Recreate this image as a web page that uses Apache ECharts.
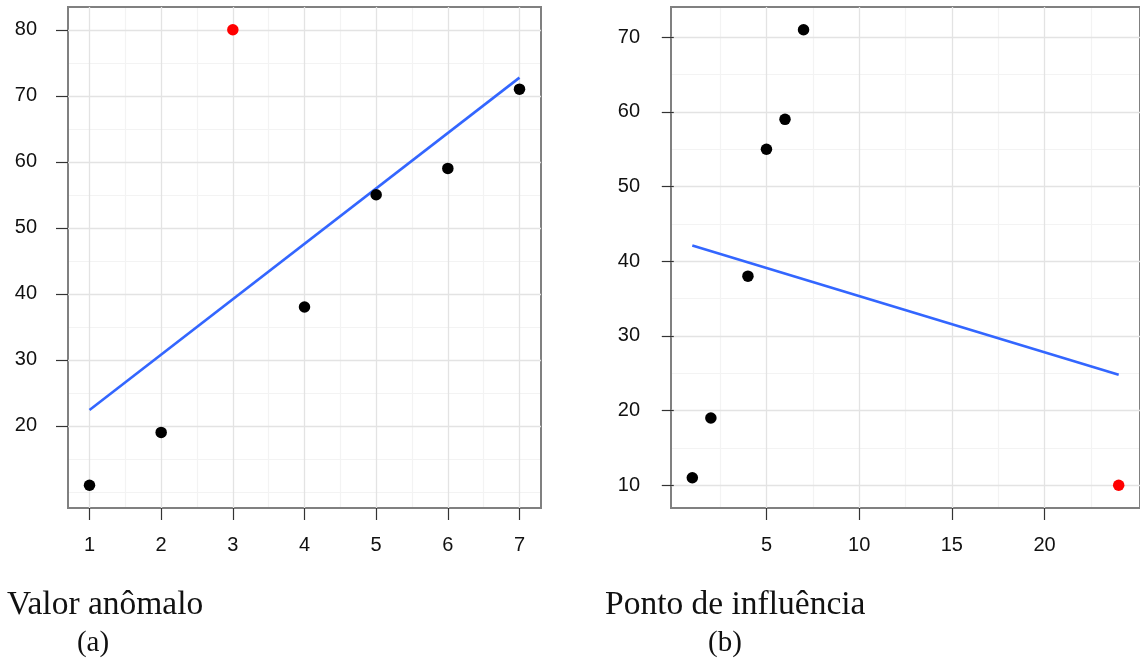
<!DOCTYPE html>
<html>
<head>
<meta charset="utf-8">
<script src="https://cdn.jsdelivr.net/npm/echarts@6/dist/echarts.min.js"></script>
<style>
html,body{margin:0;padding:0;background:#fff;}
#chart{width:1140px;height:659px;}
</style>
</head>
<body>
<div id="chart"></div>
<script>
// ---- Data ----
// Panel (a): Valor anômalo
const leftX = [1, 2, 3, 4, 5, 6, 7];
const leftY = [11, 19, 80, 38, 55, 59, 71];
const leftHighlight = 2;            // index of the red (anomalous) point
const leftFitX = [1, 7];
const leftFitY = [22.4, 72.75];
const leftXTicks = [1, 2, 3, 4, 5, 6, 7];
const leftXMinor = [1.5, 2.5, 3.5, 4.5, 5.5, 6.5];
const leftYTicks = [20, 30, 40, 50, 60, 70, 80];
const leftYMinor = [10, 15, 25, 35, 45, 55, 65, 75];
const leftXRange = [0.7, 7.3];
const leftYRange = [7.55, 83.45];

// Panel (b): Ponto de influência
const rightX = [1, 2, 4, 5, 6, 7, 24];
const rightY = [11, 19, 38, 55, 59, 71, 10];
const rightHighlight = 6;           // index of the red (influential) point
const rightFitX = [1, 24];
const rightFitY = [42.1, 24.8];
const rightXTicks = [5, 10, 15, 20];
const rightXMinor = [2.5, 7.5, 12.5, 17.5, 22.5];
const rightYTicks = [10, 20, 30, 40, 50, 60, 70];
const rightYMinor = [15, 25, 35, 45, 55, 65];
const rightXRange = [-0.15, 25.15];
const rightYRange = [6.95, 74.05];

const captions = ['Valor anômalo', 'Ponto de influência'];
const subLabels = ['(a)', '(b)'];

// ---- Styling ----
const MAJOR = '#e3e3e3';
const MINOR = '#f3f3f3';
const LABEL_FONT = {fontFamily: 'Liberation Sans', fontSize: 20, color: '#111'};

function majorAxis(dim, gridIndex, range, ticks) {
  const isX = dim === 'x';
  return {
    type: 'value', gridIndex, min: range[0], max: range[1],
    position: isX ? 'bottom' : 'left',
    axisLine: {show: false},
    axisTick: {show: true, inside: false, length: 12, customValues: ticks,
               lineStyle: {color: '#333', width: 1.2}},
    axisLabel: Object.assign({show: true, customValues: ticks, margin: isX ? 27 : 31}, LABEL_FONT),
    splitLine: {show: true, lineStyle: {color: MAJOR, width: 1.3}},
    minorTick: {show: false}, minorSplitLine: {show: false}
  };
}
function minorAxis(dim, gridIndex, range, ticks) {
  const isX = dim === 'x';
  return {
    type: 'value', gridIndex, min: range[0], max: range[1],
    position: isX ? 'top' : 'right',
    axisLine: {show: false},
    axisTick: {show: true, length: 0, customValues: ticks, lineStyle: {color: 'rgba(0,0,0,0)'}},
    axisLabel: {show: false, customValues: ticks},
    splitLine: {show: true, lineStyle: {color: MINOR, width: 1.2}},
    minorTick: {show: false}, minorSplitLine: {show: false},
    z: -1
  };
}

function pts(xs, ys, keep) {
  const out = [];
  for (let i = 0; i < xs.length; i++) if (keep(i)) out.push([xs[i], ys[i]]);
  return out;
}
function zip(xs, ys) { return xs.map((x, i) => [x, ys[i]]); }

const chart = echarts.init(document.getElementById('chart'), null, {renderer: 'canvas'});

const option = {
  animation: false,
  backgroundColor: '#fff',
  grid: [
    {left: 68, top: 7, width: 473, height: 501, show: true, borderColor: '#808080', borderWidth: 2, backgroundColor: 'transparent'},
    {left: 671, top: 7, width: 472, height: 501, show: true, borderColor: '#808080', borderWidth: 2, backgroundColor: 'transparent'}
  ],
  xAxis: [
    majorAxis('x', 0, leftXRange, leftXTicks),
    minorAxis('x', 0, leftXRange, leftXMinor),
    majorAxis('x', 1, rightXRange, rightXTicks),
    minorAxis('x', 1, rightXRange, rightXMinor)
  ],
  yAxis: [
    majorAxis('y', 0, leftYRange, leftYTicks),
    minorAxis('y', 0, leftYRange, leftYMinor),
    majorAxis('y', 1, rightYRange, rightYTicks),
    minorAxis('y', 1, rightYRange, rightYMinor)
  ],
  series: [
    {type: 'line', xAxisIndex: 0, yAxisIndex: 0, data: zip(leftFitX, leftFitY),
     showSymbol: false, lineStyle: {color: '#3366FF', width: 2.6}, z: 2, silent: true},
    {type: 'scatter', xAxisIndex: 0, yAxisIndex: 0, symbolSize: 11.5,
     data: pts(leftX, leftY, i => i !== leftHighlight), itemStyle: {color: '#000', opacity: 1}, z: 3},
    {type: 'scatter', xAxisIndex: 0, yAxisIndex: 0, symbolSize: 11.5,
     data: pts(leftX, leftY, i => i === leftHighlight), itemStyle: {color: '#FF0000', opacity: 1}, z: 3},
    {type: 'line', xAxisIndex: 2, yAxisIndex: 2, data: zip(rightFitX, rightFitY),
     showSymbol: false, lineStyle: {color: '#3366FF', width: 2.6}, z: 2, silent: true},
    {type: 'scatter', xAxisIndex: 2, yAxisIndex: 2, symbolSize: 11.5,
     data: pts(rightX, rightY, i => i !== rightHighlight), itemStyle: {color: '#000', opacity: 1}, z: 3},
    {type: 'scatter', xAxisIndex: 2, yAxisIndex: 2, symbolSize: 11.5,
     data: pts(rightX, rightY, i => i === rightHighlight), itemStyle: {color: '#FF0000', opacity: 1}, z: 3}
  ],
  graphic: [
    {type: 'text', left: 7, top: 588, style: {text: captions[0], font: '33.5px "Liberation Serif"', fill: '#111'}},
    {type: 'text', left: 605, top: 588, style: {text: captions[1], font: '33.5px "Liberation Serif"', fill: '#111'}},
    {type: 'text', x: 93, y: 643, style: {text: subLabels[0], font: '29px "Liberation Serif"', fill: '#111', align: 'center', verticalAlign: 'middle'}},
    {type: 'text', x: 725, y: 643, style: {text: subLabels[1], font: '29px "Liberation Serif"', fill: '#111', align: 'center', verticalAlign: 'middle'}}
  ]
};
chart.setOption(option);
</script>
</body>
</html>
